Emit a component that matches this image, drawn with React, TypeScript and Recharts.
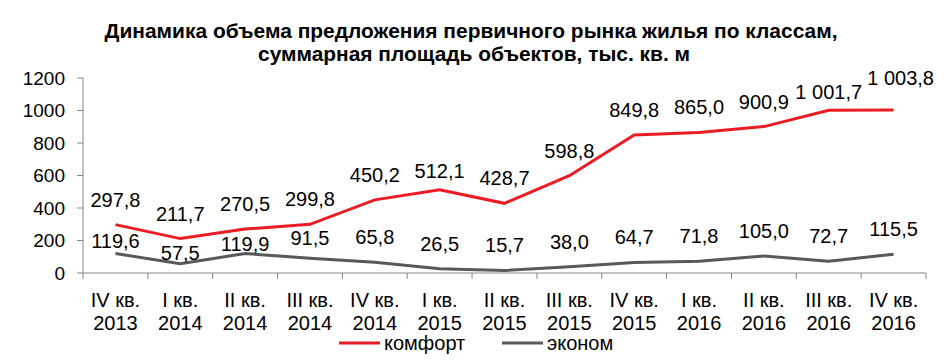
import React from "react";
import { LineChart, Line, XAxis, YAxis, LabelList } from "recharts";

// ── Данные ──────────────────────────────────────────────────────────────
const QUARTERS = ["IV кв.", "I кв.", "II кв.", "III кв.", "IV кв.", "I кв.", "II кв.", "III кв.", "IV кв.", "I кв.", "II кв.", "III кв.", "IV кв."];
const YEARS = ["2013", "2014", "2014", "2014", "2014", "2015", "2015", "2015", "2015", "2016", "2016", "2016", "2016"];
const KOMFORT = [297.8, 211.7, 270.5, 299.8, 450.2, 512.1, 428.7, 598.8, 849.8, 865.0, 900.9, 1001.7, 1003.8];
const EKONOM = [119.6, 57.5, 119.9, 91.5, 65.8, 26.5, 15.7, 38.0, 64.7, 71.8, 105.0, 72.7, 115.5];
const Y_TICKS = [0, 200, 400, 600, 800, 1000, 1200];

const data = QUARTERS.map((q, i) => ({
  key: `${q}|${YEARS[i]}`,
  quarter: q,
  year: YEARS[i],
  komfort: KOMFORT[i],
  ekonom: EKONOM[i],
}));

// ── Стили ───────────────────────────────────────────────────────────────
const FONT = "'Liberation Sans', Arial, sans-serif";
const TITLE_FONT = "'Liberation Sans Narrow', 'Arial Narrow', 'Liberation Sans', sans-serif";
const RED = "#ea1c24";
const GRAY = "#595959";
const AXIS = "#868686";

const W = 946;
const H = 361;
const PLOT_LEFT = 83;
const PLOT_RIGHT = 926;
const PLOT_BOTTOM = 273;
const BAND = (PLOT_RIGHT - PLOT_LEFT) / QUARTERS.length;

// подписи, сдвинутые вручную (как в исходной диаграмме)
const RED_OFFSET: Record<number, [number, number]> = { 5: [0, 19], 11: [0, 18], 12: [7, 32] };
const GRAY_OFFSET: Record<number, [number, number]> = { 0: [0, 13], 1: [0, 11], 2: [0, 10], 3: [0, 20] };

function fmt(v: number): string {
  const [int, dec] = v.toFixed(1).split(".");
  const intSp = int.replace(/\B(?=(\d{3})+(?!\d))/g, " ");
  return `${intSp},${dec}`;
}

function makeLabel(offsets: Record<number, [number, number]>) {
  return (props: any) => {
    const { x, y, value, index } = props;
    const [dx, off] = offsets[index] ?? [0, 25];
    return (
      <text x={x + dx} y={y - off} textAnchor="middle" dominantBaseline="central"
        fontFamily={FONT} fontSize={20} fill="#000">
        {fmt(value)}
      </text>
    );
  };
}

function XTick(props: any) {
  const { x, payload, index } = props;
  const [q, yr] = String(payload.value).split("|");
  const last = index === QUARTERS.length - 1;
  const y = PLOT_BOTTOM;
  return (
    <g>
      <line x1={x - BAND / 2} x2={x - BAND / 2} y1={y} y2={y + 6} stroke={AXIS} strokeWidth={1} />
      {last && <line x1={x + BAND / 2} x2={x + BAND / 2} y1={y} y2={y + 6} stroke={AXIS} strokeWidth={1} />}
      <text x={x} y={y + 27} textAnchor="middle" dominantBaseline="central" fontFamily={FONT} fontSize={20} fill="#000">{q}</text>
      <text x={x} y={y + 50} textAnchor="middle" dominantBaseline="central" fontFamily={FONT} fontSize={20} fill="#000">{yr}</text>
    </g>
  );
}

export default function App() {
  return (
    <div style={{ position: "absolute", left: 0, top: 0, width: W, height: H, background: "#fff" }}>
      <svg width={W} height={70} style={{ position: "absolute", left: 0, top: 0 }}>
        <text x={471} y={31} textAnchor="middle" dominantBaseline="central" fontFamily={TITLE_FONT}
          fontWeight="bold" fontSize={20} fill="#000" textLength={733} lengthAdjust="spacingAndGlyphs">
          Динамика объема предложения первичного рынка жилья по классам,
        </text>
        <text x={474} y={54} textAnchor="middle" dominantBaseline="central" fontFamily={TITLE_FONT}
          fontWeight="bold" fontSize={20} fill="#000" textLength={432} lengthAdjust="spacingAndGlyphs">
          суммарная площадь объектов, тыс. кв. м
        </text>
      </svg>

      <div style={{ position: "absolute", left: 0, top: 0 }}>
        <LineChart width={W} height={H} data={data} margin={{ top: 78, right: W - PLOT_RIGHT, left: 0, bottom: 0 }}>
          <YAxis
            domain={[0, 1200]}
            ticks={Y_TICKS}
            width={PLOT_LEFT}
            tickSize={6}
            tickMargin={12}
            axisLine={{ stroke: AXIS }}
            tickLine={{ stroke: AXIS }}
            tick={{ fontFamily: FONT, fontSize: 19, fill: "#000" }}
            interval={0}
          />
          <XAxis
            dataKey="key"
            height={H - 78 - (PLOT_BOTTOM - 78)}
            padding={{ left: BAND / 2, right: BAND / 2 }}
            axisLine={{ stroke: AXIS }}
            tickLine={false}
            tick={<XTick />}
            interval={0}
          />
          <Line dataKey="komfort" stroke={RED} strokeWidth={3} dot={false} isAnimationActive={false}>
            <LabelList dataKey="komfort" content={makeLabel(RED_OFFSET)} />
          </Line>
          <Line dataKey="ekonom" stroke={GRAY} strokeWidth={3} dot={false} isAnimationActive={false}>
            <LabelList dataKey="ekonom" content={makeLabel(GRAY_OFFSET)} />
          </Line>
        </LineChart>
      </div>

      <svg width={W} height={30} style={{ position: "absolute", left: 0, top: 330 }}>
        <line x1={339} x2={380} y1={13} y2={13} stroke={RED} strokeWidth={3} />
        <text x={384} y={13} dominantBaseline="central" fontFamily={FONT} fontSize={20} fill="#000">комфорт</text>
        <line x1={502} x2={543} y1={13} y2={13} stroke={GRAY} strokeWidth={3} />
        <text x={547} y={13} dominantBaseline="central" fontFamily={FONT} fontSize={20} fill="#000">эконом</text>
      </svg>
    </div>
  );
}
